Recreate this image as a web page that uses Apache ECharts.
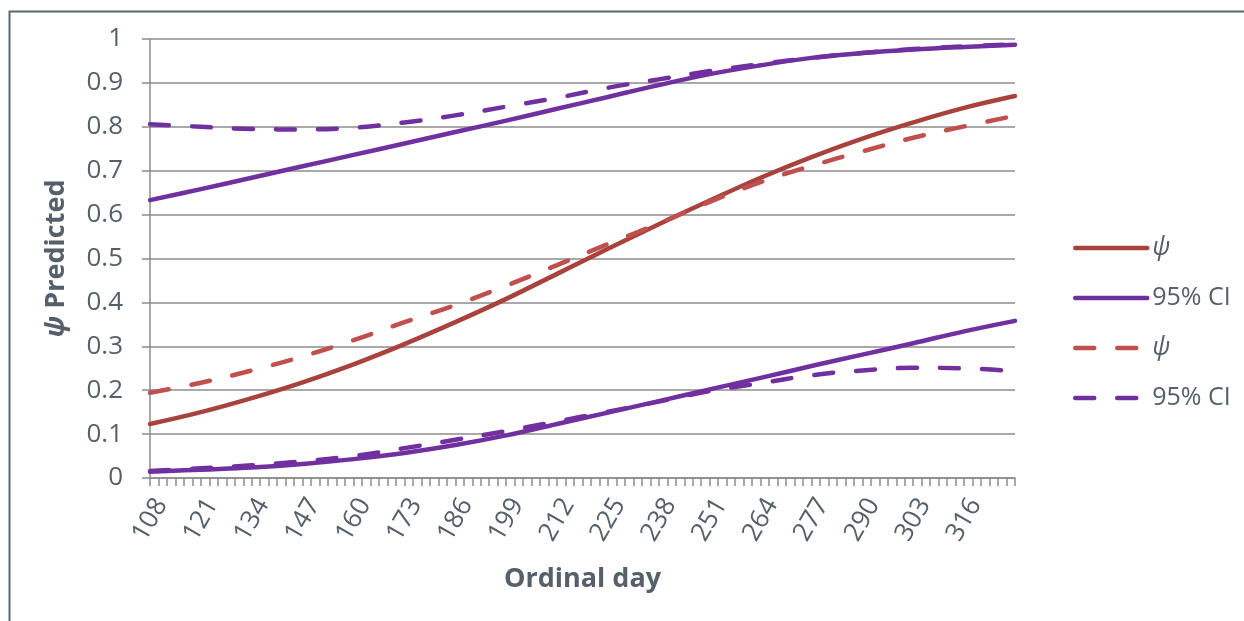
<!DOCTYPE html>
<html>
<head>
<meta charset="utf-8">
<script src="https://cdn.jsdelivr.net/npm/echarts@6/dist/echarts.min.js"></script>
<style>
html,body{margin:0;padding:0;background:#fff;}
#chart{width:1244px;height:621px;}
</style>
</head>
<body>
<div id="chart"></div>
<script>
// Ordinal days (every 13 days, axis runs 108–329)
const days = [108,121,134,147,160,173,186,199,212,225,238,251,264,277,290,303,316,329];
// Solid lines
const psiSolid      = [0.123,0.150,0.182,0.218,0.259,0.305,0.355,0.408,0.465,0.522,0.578,0.632,0.684,0.731,0.773,0.810,0.843,0.870];
const ciUpperSolid  = [0.633,0.658,0.684,0.710,0.736,0.762,0.788,0.814,0.841,0.868,0.895,0.920,0.940,0.957,0.968,0.976,0.982,0.987];
const ciLowerSolid  = [0.014,0.019,0.024,0.032,0.043,0.057,0.075,0.097,0.123,0.149,0.175,0.202,0.228,0.255,0.281,0.307,0.334,0.358];
// Dashed lines
const psiDashed     = [0.194,0.217,0.245,0.277,0.314,0.355,0.394,0.438,0.485,0.533,0.580,0.629,0.674,0.711,0.744,0.775,0.801,0.825];
const ciUpperDashed = [0.806,0.800,0.795,0.794,0.798,0.810,0.826,0.846,0.866,0.889,0.908,0.927,0.943,0.957,0.968,0.977,0.983,0.988];
const ciLowerDashed = [0.016,0.022,0.029,0.038,0.050,0.068,0.087,0.107,0.129,0.151,0.174,0.198,0.216,0.234,0.245,0.251,0.250,0.243];

const legendKeys = ['psiA','ciA','psiB','ciB'];
const legendLabels = {psiA:'{i|ψ}', ciA:'95% CI', psiB:'{i|ψ}', ciB:'95% CI'};
const xAxisTitle = 'Ordinal day';
const yAxisTitle = '{i|ψ} Predicted';

const FONT = '"Open Sans", "DejaVu Sans", sans-serif';
const TXT = '#56606b';
const RED1 = '#a9423d', RED2 = '#c0504d', PURPLE = '#7030a0';
const DASH = [19, 23];

function pairs(vals){ return days.map((d,i)=>[d, vals[i]]); }

function line(name, vals, color, dashed){
  return {
    name: name, type: 'line', data: pairs(vals), smooth: 0.4,
    symbol: 'none', showSymbol: false,
    lineStyle: {color: color, width: 4.5, type: dashed ? DASH : 'solid', cap: 'round', join: 'round'},
    itemStyle: {color: color},
    emphasis: {disabled: true}, animation: false
  };
}

const chart = echarts.init(document.getElementById('chart'), null, {renderer: 'canvas'});
chart.setOption({
  backgroundColor: '#ffffff',
  animation: false,
  textStyle: {fontFamily: FONT},
  graphic: [{
    type: 'rect', left: 7, top: 9, silent: true,
    shape: {x: 0, y: 0, width: 1400, height: 800},
    style: {fill: 'none', stroke: '#5b6670', lineWidth: 2}
  }],
  grid: {left: 150, right: 229, top: 39, bottom: 143, containLabel: false},
  legend: {
    orient: 'vertical', left: 1068, top: 228,
    itemWidth: 72, itemHeight: 14, itemGap: 20,
    data: legendKeys,
    itemStyle: {opacity: 0},
    lineStyle: {width: 4.5, cap: 'round'},
    formatter: n => legendLabels[n],
    textStyle: {fontFamily: FONT, fontSize: 25, color: TXT, lineHeight: 30,
      rich: {i: {fontStyle: 'italic', fontSize: 25, color: TXT, fontFamily: FONT}}}
  },
  xAxis: {
    type: 'value', min: 108, max: 329, interval: 13,
    name: xAxisTitle, nameLocation: 'middle', nameGap: 88,
    nameTextStyle: {fontFamily: FONT, fontSize: 27, fontWeight: 'bold', color: TXT},
    axisLine: {show: true, lineStyle: {color: '#8c8c8c', width: 1.5}},
    axisTick: {show: true, length: 8, inside: false, lineStyle: {color: '#8c8c8c', width: 1.5}},
    minorTick: {show: true, splitNumber: 6, length: 8, lineStyle: {color: '#8c8c8c', width: 1.5}},
    splitLine: {show: false},
    axisLabel: {
      rotate: 60, margin: 16, verticalAlign: 'top',
      fontFamily: FONT, fontSize: 26, color: TXT,
      formatter: v => (v >= 329 ? '' : String(v))
    }
  },
  yAxis: {
    type: 'value', min: 0, max: 1, interval: 0.1,
    name: yAxisTitle, nameLocation: 'middle', nameGap: 80, nameRotate: 90,
    nameTextStyle: {fontFamily: FONT, fontSize: 27, fontWeight: 'bold', color: TXT,
      rich: {i: {fontStyle: 'italic', fontWeight: 'bold', fontSize: 27, color: TXT, fontFamily: FONT}}},
    axisLine: {show: true, lineStyle: {color: '#8c8c8c', width: 1.5}},
    axisTick: {show: true, length: 8, inside: false, lineStyle: {color: '#8c8c8c', width: 1.5}},
    splitLine: {show: true, lineStyle: {color: '#8c8c8c', width: 1.5}},
    axisLabel: {margin: 27, fontFamily: FONT, fontSize: 26, color: TXT,
      formatter: v => String(Math.round(v * 10) / 10)}
  },
  series: [
    line('psiA', psiSolid, RED1, false),
    line('ciA', ciUpperSolid, PURPLE, false),
    line('ciA', ciLowerSolid, PURPLE, false),
    line('psiB', psiDashed, RED2, true),
    line('ciB', ciUpperDashed, PURPLE, true),
    line('ciB', ciLowerDashed, PURPLE, true)
  ]
});
</script>
</body>
</html>
